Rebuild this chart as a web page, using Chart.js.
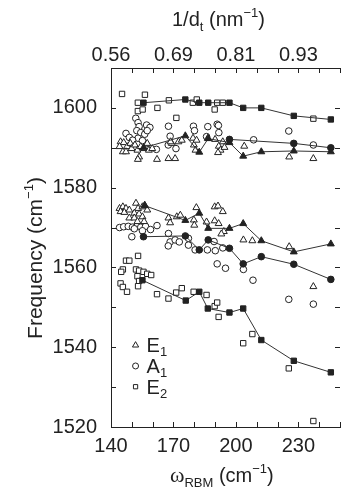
<!DOCTYPE html>
<html>
<head>
<meta charset="utf-8">
<script src="https://cdn.jsdelivr.net/npm/chart.js@4.4.1/dist/chart.umd.min.js"></script>
<style>
  html, body { margin: 0; padding: 0; overflow: hidden; background: #fff; }
  #wrap { width: 345px; height: 495px; }
</style>
</head>
<body>
<div id="wrap"><canvas id="chart"></canvas></div>
<script>
// axis ranges and ticks
const xMin = 140, xMax = 250, yMin = 1520, yMax = 1610;
const xTickValues = [140, 170, 200, 230];
const topTickLabels = ['0.56', '0.69', '0.81', '0.93'];
const yTickValues = [1520, 1540, 1560, 1580, 1600];
const xMinorTicks = [140, 150, 160, 170, 180, 190, 200, 210, 220, 230, 240, 250];
const yMinorTicks = [1520, 1530, 1540, 1550, 1560, 1570, 1580, 1590, 1600, 1610];

// legend
const legendNames = ['E', 'A', 'E'];
const legendSubs = ['1', '1', '2'];
const legendStyles = ['triangle', 'circle', 'rect'];

// [omega_RBM, frequency] pairs, open symbols = scattered tubes
const e1Open = [
  [144.6,1591.5],[146.1,1591.3],[144.1,1590.3],[145.7,1589.0],[147.7,1590.3],[149.3,1591.1],
  [149.9,1589.8],[151.5,1590.7],[152.7,1589.4],[153.5,1587.7],[154.3,1590.3],[155.9,1589.8],
  [157.4,1591.1],[158.2,1589.4],[159.8,1589.8],[162.1,1587.1],[167.6,1587.3],[170.8,1587.3],
  [147.2,1589.0],[169.2,1591.1],[172.4,1591.5],[174.0,1591.9],[179.4,1592.4],[179.8,1590.7],
  [180.6,1589.4],[186.5,1592.4],[190.0,1592.1],[191.8,1590.4],[192.6,1589.4],[191.4,1588.8],
  [193.7,1591.5],[194.5,1590.1],[204.0,1590.4],[225.6,1587.7],[237.2,1587.3],[152.9,1587.1],
  [168.6,1591.5],[181.1,1591.9],
  [144.1,1574.8],[145.7,1575.2],[147.2,1574.8],[144.6,1574.0],[146.4,1573.8],[148.8,1574.4],
  [152.0,1576.1],[153.0,1574.8],[155.1,1575.2],[156.2,1575.6],[157.4,1574.4],[151.2,1573.6],
  [153.5,1573.4],[148.8,1572.4],[151.2,1572.4],[155.1,1572.7],[155.9,1571.5],[152.7,1571.5],
  [167.6,1572.4],[168.4,1571.2],[171.6,1572.7],[173.3,1573.1],[181.0,1575.0],[179.8,1571.9],
  [180.0,1570.6],[189.8,1575.2],[191.4,1575.4],[193.7,1574.0],[189.8,1571.7],[191.7,1571.0],
  [185.9,1571.4],[194.2,1569.0],[193.0,1568.4],[203.6,1566.9],[207.9,1566.7],[225.6,1565.2],
  [237.2,1555.2]
];
const a1Open = [
  [151.9,1597.4],[153.0,1596.3],[153.5,1595.3],[157.1,1595.7],[158.7,1595.1],[152.4,1594.3],
  [154.3,1593.8],[156.2,1593.4],[157.4,1594.3],[167.6,1595.4],[147.2,1593.6],[148.8,1592.6],
  [153.0,1592.4],[150.4,1591.9],[155.1,1591.8],[161.8,1589.6],[168.4,1592.9],[167.5,1590.7],
  [171.2,1589.8],[179.6,1595.4],[180.1,1594.3],[186.5,1595.3],[191.0,1595.9],[191.6,1595.6],
  [191.8,1593.8],[185.9,1592.8],[208.5,1592.0],[225.4,1594.2],[237.2,1590.7],
  [144.1,1570.0],[146.1,1570.2],[148.3,1570.3],[150.3,1570.1],[152.7,1570.5],[154.3,1570.1],
  [156.6,1570.3],[159.0,1569.5],[162.1,1570.5],[151.2,1569.7],[155.1,1569.2],[150.0,1567.7],
  [167.6,1568.5],[168.4,1566.4],[170.8,1566.9],[172.8,1566.4],[167.5,1565.4],[177.2,1567.3],
  [177.2,1565.6],[180.4,1564.4],[186.3,1564.4],[190.1,1564.2],[193.7,1564.9],[189.5,1566.5],
  [191.0,1560.9],[195.0,1559.8],[203.6,1559.5],[208.2,1556.8],[225.4,1552.0],[237.2,1550.8]
];
const e2Open = [
  [145.3,1603.5],[156.3,1603.3],[152.9,1601.3],[152.9,1599.2],[155.2,1599.6],[162.3,1600.0],
  [167.8,1601.9],[171.4,1597.5],[179.3,1601.3],[181.2,1602.1],[191.0,1601.3],[193.7,1601.3],
  [189.8,1599.6],[237.2,1597.3],
  [153.0,1562.9],[147.2,1561.7],[148.8,1561.7],[145.7,1559.5],[144.9,1558.9],[152.0,1559.5],
  [153.5,1559.2],[155.6,1558.9],[157.4,1558.4],[159.3,1558.1],[152.7,1557.8],[153.5,1556.6],
  [153.0,1555.3],[144.6,1556.0],[145.7,1555.1],[147.7,1553.9],[162.1,1553.3],[167.6,1552.2],
  [171.3,1553.7],[174.0,1554.8],[179.7,1553.9],[185.9,1553.1],[189.8,1550.3],[191.0,1551.2],
  [191.7,1547.6],[207.9,1543.3],[203.5,1541.0],[225.4,1534.7],[237.2,1521.5]
];

// filled symbols joined by lines
const e2HighLine = [[155.6,1601.3],[175.7,1602.1],[182.4,1601.3],[186.7,1601.3],[196.9,1601.3],[203.5,1600.0],[212.2,1600.0],[227.8,1598.0],[245.6,1597.1]];
const e1HighLine = [[155.6,1590.0],[175.7,1593.0],[182.4,1588.9],[186.7,1592.3],[196.9,1591.3],[203.5,1587.9],[212.2,1589.0],[227.8,1589.2],[245.6,1589.0]];
const a1HighLine = [[196.9,1592.1],[227.8,1591.1],[245.6,1590.0]];
const e1LowLine = [[156.2,1575.5],[175.7,1571.8],[182.4,1573.6],[186.7,1569.8],[196.9,1569.8],[203.5,1571.0],[212.2,1566.7],[227.8,1563.9],[245.6,1565.9]];
const a1LowLine = [[155.6,1567.7],[175.7,1567.9],[182.4,1564.4],[186.7,1566.9],[196.9,1564.8],[203.5,1560.9],[212.2,1562.7],[227.8,1560.8],[245.6,1557.0]];
const e2LowLine = [[155.1,1556.8],[175.9,1551.7],[182.4,1553.9],[186.5,1549.7],[196.9,1548.7],[203.5,1549.7],[212.2,1541.8],[227.8,1536.6],[245.6,1533.7]];

const ink = '#222';
const sans = '"Liberation Sans", Arial, sans-serif';
const mainFont = '20px ' + sans;
const smallFont = '13px ' + sans;

const pts = (arr) => arr.map(([x, y]) => ({ x, y }));
const radius = { triangle: 4, circle: 3.3, rect: 3.8 };

function openSet(data, style) {
  return {
    data: pts(data), showLine: false, pointStyle: style, pointRadius: radius[style],
    pointBackgroundColor: '#fff', pointBorderColor: ink, pointBorderWidth: 1
  };
}
function lineSet(data, style) {
  return {
    data: pts(data), showLine: true, borderColor: '#333', borderWidth: 1,
    pointStyle: style, pointRadius: radius[style],
    pointBackgroundColor: ink, pointBorderColor: ink, pointBorderWidth: 1
  };
}

function drawRich(ctx, parts, x, y) {
  for (const p of parts) {
    ctx.font = p.font;
    ctx.fillText(p.t, x, y + (p.dy || 0));
    x += ctx.measureText(p.t).width;
  }
}
function richWidth(ctx, parts) {
  let w = 0;
  for (const p of parts) { ctx.font = p.font; w += ctx.measureText(p.t).width; }
  return w;
}

const decorations = {
  id: 'decorations',
  afterDraw(chart) {
    const ctx = chart.ctx;
    const { left, right, top, bottom } = chart.chartArea;
    const xs = chart.scales.x, ys = chart.scales.y;
    ctx.save();
    // inward ticks
    ctx.strokeStyle = ink;
    ctx.lineWidth = 1;
    ctx.beginPath();
    for (const v of xMinorTicks) {
      const px = Math.round(xs.getPixelForValue(v)) + 0.5;
      ctx.moveTo(px, bottom); ctx.lineTo(px, bottom - 5);
      ctx.moveTo(px, top); ctx.lineTo(px, top + 5);
    }
    for (const v of yMinorTicks) {
      const py = Math.round(ys.getPixelForValue(v)) + 0.5;
      ctx.moveTo(left, py); ctx.lineTo(left + 5, py);
      ctx.moveTo(right, py); ctx.lineTo(right - 5, py);
    }
    ctx.stroke();

    // axis titles
    ctx.fillStyle = ink;
    ctx.textAlign = 'left';
    ctx.textBaseline = 'alphabetic';
    drawRich(ctx, [
      { t: 'ω', font: '22px "Liberation Serif", serif' },
      { t: 'RBM', font: smallFont, dy: 5 },
      { t: ' (cm', font: mainFont },
      { t: '−1', font: smallFont, dy: -9 },
      { t: ')', font: mainFont }
    ], 170, 482);
    drawRich(ctx, [
      { t: '1/d', font: mainFont },
      { t: 't', font: smallFont, dy: 5 },
      { t: ' (nm', font: mainFont },
      { t: '−1', font: smallFont, dy: -9 },
      { t: ')', font: mainFont }
    ], 172, 26);
    const yTitle = [
      { t: 'Frequency (cm', font: '21px ' + sans },
      { t: '−1', font: smallFont, dy: -9 },
      { t: ')', font: '21px ' + sans }
    ];
    ctx.save();
    ctx.translate(42, 258);
    ctx.rotate(-Math.PI / 2);
    drawRich(ctx, yTitle, -richWidth(ctx, yTitle) / 2, 0);
    ctx.restore();

    // legend
    const lx = xs.getPixelForValue(151.8);
    legendNames.forEach((name, i) => {
      const cy = ys.getPixelForValue(1540.5 - i * 5.2);
      ctx.fillStyle = '#fff';
      ctx.strokeStyle = ink;
      Chart.helpers.drawPoint(ctx, { pointStyle: legendStyles[i], radius: legendStyles[i] === 'triangle' ? 3.6 : 3, borderWidth: 1, rotation: 0 }, lx, cy);
      ctx.fillStyle = ink;
      drawRich(ctx, [
        { t: name, font: mainFont },
        { t: legendSubs[i], font: smallFont, dy: 4 }
      ], lx + 11, cy + 7);
    });
    ctx.restore();
  }
};

const tickFont = { family: sans, size: 20 };

new Chart(document.getElementById('chart'), {
  type: 'scatter',
  data: {
    datasets: [
      lineSet(e2HighLine, 'rect'),
      lineSet(e1HighLine, 'triangle'),
      lineSet(a1HighLine, 'circle'),
      lineSet(e1LowLine, 'triangle'),
      lineSet(a1LowLine, 'circle'),
      lineSet(e2LowLine, 'rect'),
      openSet(e1Open, 'triangle'),
      openSet(a1Open, 'circle'),
      openSet(e2Open, 'rect')
    ]
  },
  options: {
    responsive: true,
    maintainAspectRatio: false,
    animation: false,
    layout: { padding: 0 },
    plugins: { legend: { display: false }, tooltip: { enabled: false } },
    scales: {
      x: {
        type: 'linear', position: 'bottom', min: xMin, max: xMax,
        afterBuildTicks: (s) => { s.ticks = xTickValues.map((v) => ({ value: v })); },
        afterFit: (s) => { s.height = 68; },
        ticks: { font: tickFont, color: ink, padding: 7, maxRotation: 0, callback: (v) => String(v) },
        grid: { display: false, drawTicks: false },
        border: { display: true, color: ink, width: 1 }
      },
      x2: {
        type: 'linear', position: 'top', min: xMin, max: xMax,
        afterBuildTicks: (s) => { s.ticks = xTickValues.map((v) => ({ value: v })); },
        afterFit: (s) => { s.height = 68; },
        ticks: {
          font: tickFont, color: ink, padding: 1, maxRotation: 0,
          callback: (v) => topTickLabels[xTickValues.indexOf(v)]
        },
        grid: { display: false, drawTicks: false },
        border: { display: true, color: ink, width: 1 }
      },
      y: {
        type: 'linear', position: 'left', min: yMin, max: yMax,
        afterBuildTicks: (s) => { s.ticks = yTickValues.map((v) => ({ value: v })); },
        afterFit: (s) => { s.width = 111; },
        ticks: { font: tickFont, color: ink, padding: 14, callback: (v) => String(v) },
        grid: { display: false, drawTicks: false },
        border: { display: true, color: ink, width: 1 }
      }
    }
  },
  plugins: [decorations]
});
</script>
</body>
</html>
